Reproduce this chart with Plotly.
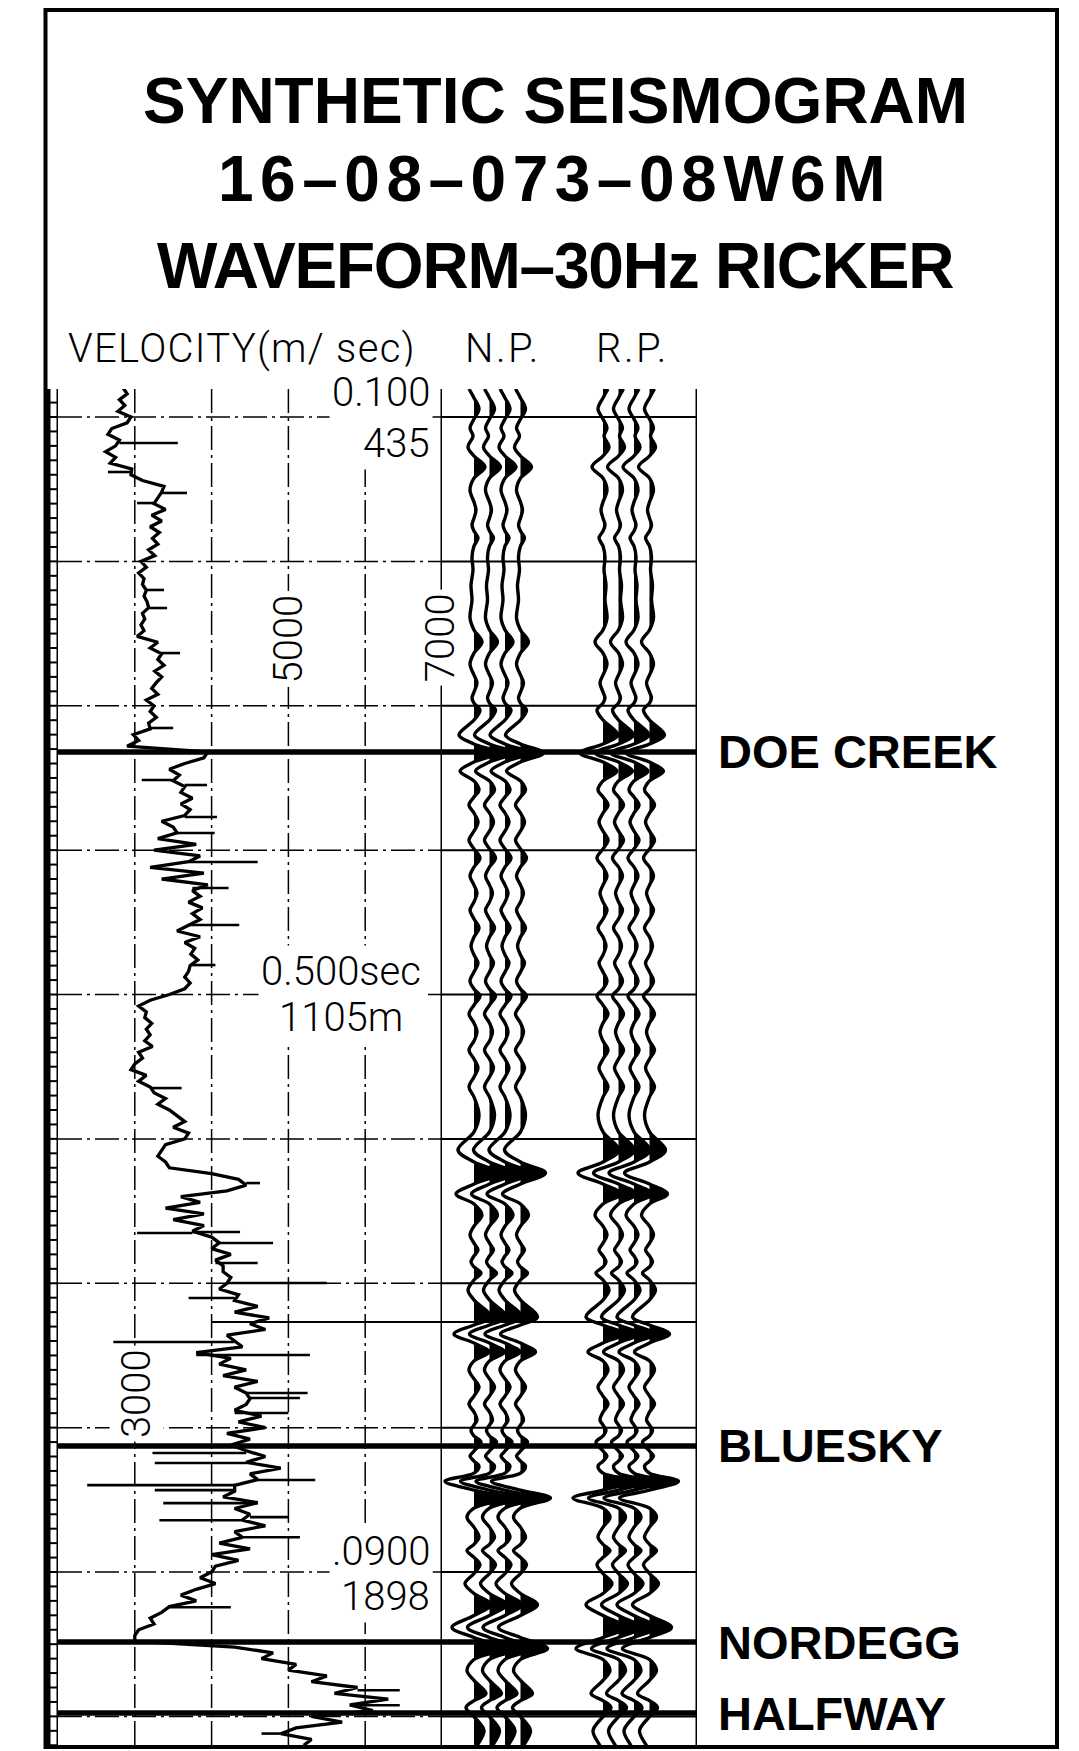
import plotly.graph_objects as go

# ---------------------------------------------------------------- data
title_lines = ["SYNTHETIC SEISMOGRAM", "16–08–073–08W6M", "WAVEFORM–30Hz RICKER"]

vel_min, vel_max = 2000, 7000                 # m/s across the log panel
vel_grid = [3000, 4000, 5000, 6000]           # dash-dot velocity grid
vel_tick_vals = [3000, 5000, 7000]
vel_tick_text = ["3000", "5000", "7000"]

time_grid_ms = [100, 200, 300, 400, 500, 600, 700, 800, 900, 1000]
time_label_ms = [100, 500, 900]
time_label_text = ["0.100", "0.500sec", ".0900"]
depth_label_text = ["435", "1105m", "1898"]

formation_names = ["DOE CREEK", "BLUESKY", "NORDEGG", "HALFWAY"]
formation_time_ms = [332.0, 812.7, 948.5, 997.7]
marker_time_ms = [726.8]                      # unlabelled thin marker

# sonic velocity log (background trend), sampled every 4 ms from 80 ms
log_time_ms = list(range(80, 1024, 4))
log_velocity = [
    2850, 2900, 2800, 2870, 2780, 2950, 2900, 2700, 2650, 2800,
    2750, 2620, 2750, 2680, 2960, 2950, 3100, 3380, 3350, 3300,
    3250, 3400, 3220, 3350, 3200, 3320, 3230, 3300, 3180, 3260,
    3080, 3150, 3050, 3120, 3100, 3150, 3120, 3160, 3180, 3100,
    3130, 3080, 3120, 3030, 3300, 3200, 3350, 3300, 3380, 3260,
    3350, 3280, 3220, 3300, 3150, 3250, 3200, 3280, 3180, 3200,
    2980, 3050, 2900, 3950, 3900, 3650, 3450, 3580, 3500, 3650,
    3600, 3750, 3600, 3720, 3650, 3350, 3500, 3550, 3300, 3800,
    3250, 3850, 3700, 3200, 3900, 3350, 3950, 3750, 3850, 3700,
    3880, 3750, 3850, 3700, 3550, 3850, 3650, 3780, 3730, 3820,
    3720, 3700, 3650, 3720, 3650, 3450, 3200, 3050, 3150, 3130,
    3220, 3150, 3200, 3130, 3230, 3050, 3100, 3000, 2950, 3150,
    3050, 3200, 3250, 3400, 3300, 3450, 3550, 3650, 3500, 3700,
    3650, 3400, 3350, 3300, 3400, 3450, 4000, 4350, 4450, 4200,
    3600, 3850, 3400, 3900, 3500, 3900, 3750, 4000, 4100, 4000,
    4250, 4050, 4150, 4150, 4250, 4200, 4100, 4350, 4300, 4600,
    4300, 4750, 4500, 4700, 4200, 4300, 4400, 3800, 4250, 4100,
    4450, 4150, 4600, 4300, 4450, 4500, 4450, 4300, 4650, 4350,
    4700, 4200, 4500, 4250, 4450, 4700, 4450, 4900, 4500, 4600,
    4300, 4300, 4150, 4600, 4300, 4500, 4400, 4700, 4300, 4400,
    4100, 4500, 4000, 4350, 4050, 4000, 3850, 4050, 3800, 3600,
    3800, 3450, 3350, 3200, 3250, 3050, 3000, 3000, 4300, 4800,
    4650, 5100, 5000, 5500, 5300, 5900, 5600, 6300, 5800, 6100,
    5300, 5700, 5100, 4900, 5300, 5200,
]
# thin one-sample excursions of the log (drawn as horizontal spikes)
spike_time_ms = [
    118.0, 138.1, 152.6, 159.6, 219.8, 232.3, 263.5, 315.4, 351.4, 354.9,
    377.1, 388.1, 408.2, 426.2, 451.9, 479.6, 564.8, 630.6, 664.5, 665.2,
    672.1, 686.0, 699.8, 710.2, 740.7, 749.7, 776.0, 779.5, 789.9, 817.6,
    824.5, 836.3, 839.8, 843.3, 852.3, 862.0, 864.1, 875.9, 924.4, 981.9,
    992.3, 1011.9,
]
spike_velocity = [
    3560, 2650, 3680, 3030, 3380, 3420, 3590, 3500, 3090, 3940,
    4070, 4040, 4600, 4220, 4360, 4050, 3610, 4630, 4370, 3030,
    4800, 4600, 5500, 3700, 2720, 5280, 5250, 5150, 5000, 3230,
    3260, 5350, 2380, 3260, 3370, 5000, 3320, 5150, 4250, 6450,
    6450, 4650,
]

# normal-polarity synthetic trace: times (ms) of peaks, troughs and baseline crossings
np_time_ms = [
    80.6, 86.8, 94.5, 101.4, 107.6, 113.2, 120.8, 127.0, 134.6, 142.3,
    150.6, 158.9, 164.4, 170.0, 174.8, 179.0, 183.8, 189.4, 197.0, 206.0,
    216.4, 226.8, 239.2, 247.5, 255.8, 263.5, 271.1, 278.7, 284.2, 290.5,
    294.6, 298.1, 302.9, 309.9, 320.3, 326.5, 332.7, 339.0, 345.2, 352.1,
    358.4, 363.2, 368.7, 374.3, 380.5, 386.8, 393.0, 399.2, 405.5, 411.7,
    417.9, 424.2, 429.7, 435.9, 441.5, 447.7, 453.9, 460.2, 466.4, 472.6,
    478.2, 484.4, 490.6, 496.2, 501.0, 507.3, 513.5, 519.7, 526.0, 532.2,
    538.4, 544.7, 550.9, 557.1, 564.1, 571.0, 583.5, 595.2, 607.7, 616.0,
    623.6, 631.3, 638.2, 645.1, 652.7, 660.4, 666.6, 672.2, 677.0, 681.1,
    685.3, 688.7, 692.9, 697.8, 704.7, 711.6, 723.4, 728.9, 735.1, 741.4,
    747.6, 753.8, 760.1, 766.3, 771.9, 778.1, 783.6, 789.2, 794.7, 798.2,
    801.7, 805.8, 810.0, 816.2, 819.7, 823.2, 826.6, 831.5, 837.1, 843.3,
    848.8, 855.8, 862.0, 869.0, 875.9, 880.8, 885.1, 889.9, 894.8, 901.0,
    908.0, 914.9, 922.5, 930.1, 938.4, 945.4, 953.0, 960.6, 968.2, 975.1,
    984.2, 989.1, 993.9, 1000.2, 1009.9, 1020.3, 1023.7,
]
np_amplitude = [
    -5, 0, 5, 0, -4, -1, -6, 0, 11, 0,
    -4, 0, 2, 0, -2, 0, 4, 0, -2, -1,
    -3, -2, -4, 0, 8, 0, -4, 0, 3, 0,
    -2, 0, 6, 0, -15, 0, 23, 0, -14, 0,
    5, 0, -5, 0, 4, 0, -5, 0, 6, 0,
    -4, 0, 3, 0, -4, 0, 5, 0, -3, 0,
    4, 0, -4, 0, 6, 0, -5, 0, 3, 0,
    -5, 0, 4, 0, -5, 0, 5, 0, -16, 0,
    25, 0, -18, 0, 8, 0, -4, 0, 4, 0,
    -3, 0, 7, 0, -6, 0, 17, 0, -20, 0,
    15, 0, -5, 0, 5, 0, -5, 0, 3, 0,
    -3, 0, 7, 0, -4, 0, 5, 0, -29, 0,
    30, 0, -7, 0, 5, 0, -7, 0, 6, 0,
    -9, 0, 17, 0, -22, 0, 27, 0, -7, 0,
    12, 0, -8, 0, 10, 3, 0,
]
polarity_names = ["N.P.", "R.P."]
polarity_sign = [1, -1]

# ---------------------------------------------------------------- layout geometry
W, H = 1079, 1751
T_TOP, T_BOT = 80.6, 1021.9          # ms at top / bottom of the panel


def px(xp):
    return xp / W


def py(yp):
    return 1 - yp / H


np_offsets = [32, 47.5, 63, 78.5]        # trace baselines inside the trace panel (px units)
rp_offsets = [161, 176.5, 192, 207.5]
GAIN = 1.0

LABEL_FONT = dict(family="Roboto, Liberation Sans, Arial, sans-serif", size=40,
                  color="black", weight=300)
BOLD_FONT = dict(family="Liberation Sans, Arial, sans-serif", color="black", weight="bold")


def spaced(text, sp):
    return text if sp == 0 else '<span style="letter-spacing:%gpx">%s</span>' % (sp, text)


fig = go.Figure()

# ladder of 10 ms ticks at the left edge
lx, ly = [], []
t = 90
while t <= T_BOT:
    lx += [1.5, 11, None]
    ly += [t, t, None]
    t += 10
fig.add_trace(go.Scatter(x=lx, y=ly, xaxis="x3", yaxis="y", mode="lines",
                         line=dict(color="black", width=2), hoverinfo="skip"))

# velocity log trend
fig.add_trace(go.Scatter(x=log_velocity, y=log_time_ms, xaxis="x", yaxis="y", mode="lines",
                         line=dict(color="black", width=3.3), hoverinfo="skip"))

# velocity spikes: horizontal excursions from the log
sx, sy = [], []
for ts, vs in zip(spike_time_ms, spike_velocity):
    k = min(range(len(log_time_ms)), key=lambda i: abs(log_time_ms[i] - ts))
    sx += [log_velocity[k], vs, None]
    sy += [ts, ts, None]
fig.add_trace(go.Scatter(x=sx, y=sy, xaxis="x", yaxis="y", mode="lines",
                         line=dict(color="black", width=2.6), hoverinfo="skip"))


# seismic traces
def add_traces(offsets, sign):
    for b in offsets:
        fx, fy = [], []
        run = []

        def flush(r):
            if any(v > 0 for _, v in r):
                pts = list(r)
                if pts[0][1] != 0:
                    pts.insert(0, (pts[0][0], 0))
                if pts[-1][1] != 0:
                    pts.append((pts[-1][0], 0))
                fx.extend([b + v * GAIN for _, v in pts] + [None])
                fy.extend([tt for tt, _ in pts] + [None])

        for tt, a in zip(np_time_ms, np_amplitude):
            v = sign * a
            if v >= 0:
                run.append((tt, v))
            else:
                flush(run)
                run = []
        flush(run)
        fig.add_trace(go.Scatter(x=fx, y=fy, xaxis="x2", yaxis="y", mode="lines",
                                 fill="toself", fillcolor="black",
                                 line=dict(width=0, shape="spline", color="black"),
                                 hoverinfo="skip"))
        fig.add_trace(go.Scatter(x=[b + sign * a * GAIN for a in np_amplitude], y=np_time_ms,
                                 xaxis="x2", yaxis="y", mode="lines",
                                 line=dict(color="black", width=3.4, shape="spline"),
                                 hoverinfo="skip"))


add_traces(np_offsets, polarity_sign[0])
add_traces(rp_offsets, polarity_sign[1])

shapes = []
DASH = "24px,5px,3px,5px"
for v in vel_grid:
    shapes.append(dict(type="line", xref="x", yref="y", x0=v, x1=v, y0=T_TOP, y1=T_BOT,
                       line=dict(color="black", width=1.5, dash=DASH), layer="below"))
shapes.append(dict(type="line", xref="x", yref="y", x0=vel_max, x1=vel_max, y0=T_TOP, y1=T_BOT,
                   line=dict(color="black", width=3), layer="below"))
shapes.append(dict(type="line", xref="x2", yref="y", x0=255, x1=255, y0=T_TOP, y1=T_BOT,
                   line=dict(color="black", width=3), layer="above"))
for tg in time_grid_ms:
    shapes.append(dict(type="line", xref="x", yref="y", x0=vel_min, x1=vel_max, y0=tg, y1=tg,
                       line=dict(color="black", width=1.5, dash=DASH), layer="below"))
    shapes.append(dict(type="line", xref="x2", yref="y", x0=0, x1=255, y0=tg, y1=tg,
                       line=dict(color="black", width=2), layer="below"))
for tm in marker_time_ms:
    shapes.append(dict(type="line", xref="x", yref="y", x0=4000, x1=vel_max, y0=tm, y1=tm,
                       line=dict(color="black", width=2), layer="below"))
    shapes.append(dict(type="line", xref="x2", yref="y", x0=0, x1=255, y0=tm, y1=tm,
                       line=dict(color="black", width=2), layer="below"))
for tf in formation_time_ms:
    shapes.append(dict(type="line", xref="paper", yref="y", x0=px(58), x1=px(697), y0=tf, y1=tf,
                       line=dict(color="black", width=5.5), layer="above"))
shapes.append(dict(type="line", xref="x3", yref="y", x0=10.5, x1=10.5, y0=T_TOP, y1=T_BOT,
                   line=dict(color="black", width=2), layer="above"))
shapes.append(dict(type="line", xref="x3", yref="y", x0=1.5, x1=1.5, y0=T_TOP, y1=T_BOT,
                   line=dict(color="black", width=4), layer="above"))
shapes.append(dict(type="rect", xref="paper", yref="paper", x0=px(45.5), x1=px(1057),
                   y0=py(1747), y1=py(10), line=dict(color="black", width=4), layer="above"))

ann = []
title_y = [101, 179, 266]
title_spacing = [0, 6.5, -1.2]
for line, yc, sp in zip(title_lines, title_y, title_spacing):
    ann.append(dict(text=spaced(line, sp), xref="paper", yref="paper", x=px(555), y=py(yc),
                    xanchor="center", yanchor="middle", showarrow=False,
                    font=dict(BOLD_FONT, size=64)))
ann.append(dict(text=spaced("VELOCITY(m/ sec)", 1.3), xref="paper", yref="paper",
                x=px(66), y=py(348), xanchor="left", yanchor="middle", showarrow=False,
                font=LABEL_FONT))
for name, xc in zip(polarity_names, [503, 632]):
    ann.append(dict(text=spaced(name, 2.5), xref="paper", yref="paper", x=px(xc), y=py(348),
                    xanchor="center", yanchor="middle", showarrow=False, font=LABEL_FONT))

lab_x = [6880, 5680, 6885]
lab_anchor = ["right", "center", "right"]
lab_up = [25, 23, 21]
lab_dn = [26, 23, 24]
for tl, tt, dt, x, xa, up, dn in zip(time_label_ms, time_label_text, depth_label_text,
                                      lab_x, lab_anchor, lab_up, lab_dn):
    ann.append(dict(text=tt, xref="x", yref="y", x=x, y=tl, xanchor=xa, yanchor="middle",
                    yshift=up, showarrow=False, font=LABEL_FONT, bgcolor="white", borderpad=2))
    ann.append(dict(text=dt, xref="x", yref="y", x=x, y=tl, xanchor=xa, yanchor="middle",
                    yshift=-dn, showarrow=False, font=LABEL_FONT, bgcolor="white", borderpad=2))

rot_x = [3030, 5000, 6975]
rot_t = [776.7, 253.8, 253.1]
for v, txt, x, tt in zip(vel_tick_vals, vel_tick_text, rot_x, rot_t):
    ann.append(dict(text=txt, xref="x", yref="y", x=x, y=tt, textangle=-90,
                    xanchor="center", yanchor="middle", showarrow=False,
                    font=LABEL_FONT, bgcolor="white", borderpad=3))

for name, tf in zip(formation_names, formation_time_ms):
    ann.append(dict(text=name, xref="paper", yref="y", x=px(716), y=tf, yshift=0,
                    xanchor="left", yanchor="middle", showarrow=False,
                    font=dict(BOLD_FONT, size=47)))

fig.update_layout(
    width=W, height=H, autosize=False,
    margin=dict(l=0, r=0, t=0, b=0, pad=0),
    paper_bgcolor="white", plot_bgcolor="white", showlegend=False,
    xaxis=dict(domain=[px(58), px(442)], range=[vel_min, vel_max], visible=False, anchor="y"),
    xaxis2=dict(domain=[px(442), px(697)], range=[0, 255], visible=False, anchor="y"),
    xaxis3=dict(domain=[px(47), px(58)], range=[0, 11], visible=False, anchor="y"),
    yaxis=dict(domain=[py(1748), py(389)], range=[T_BOT, T_TOP], visible=False),
    shapes=shapes, annotations=ann,
)

fig.write_html("out.html")
